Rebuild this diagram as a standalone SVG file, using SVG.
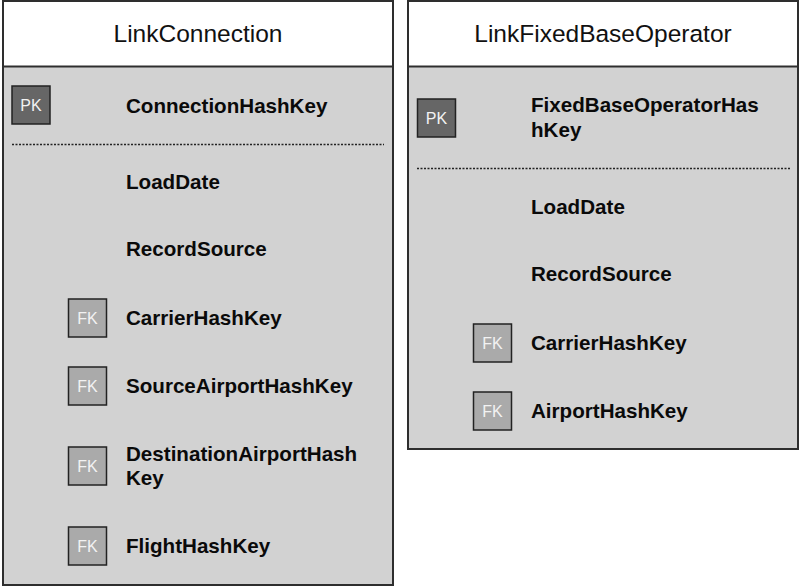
<svg xmlns="http://www.w3.org/2000/svg" width="800" height="587" viewBox="0 0 800 587">
<style>
.body{fill:#d2d2d2;stroke:#2e2e2e;stroke-width:2}
.head{fill:#ffffff;stroke:#2e2e2e;stroke-width:2}
.title{font-family:"Liberation Sans",Arial,sans-serif;font-size:24.5px;fill:#111;text-anchor:middle}
.attr{font-family:"Liberation Sans",Arial,sans-serif;font-size:20.6px;font-weight:bold;fill:#0a0a0a}
.pk{fill:#666666;stroke:#222;stroke-width:1.5}
.fk{fill:#aaaaaa;stroke:#222;stroke-width:1.5}
.key{font-family:"Liberation Sans",Arial,sans-serif;font-size:16px;fill:#f2f2f2;text-anchor:middle}
.sep{stroke:#222;stroke-width:1.5;stroke-dasharray:2 1.5;fill:none}
</style>
<rect width="800" height="587" fill="#ffffff"/>
<g id="LinkConnection">
<rect class="body" x="3" y="1" width="390" height="584"/>
<rect class="head" x="3" y="1" width="390" height="65.5"/>
<text class="title" x="198" y="42">LinkConnection</text>
<rect class="pk" x="12" y="86" width="38" height="38"/>
<text class="key" x="31" y="111">PK</text>
<text class="attr" x="126" y="113">ConnectionHashKey</text>
<line class="sep" x1="12" y1="144.5" x2="384" y2="144.5"/>
<text class="attr" x="126" y="189">LoadDate</text>
<text class="attr" x="126" y="256">RecordSource</text>
<rect class="fk" x="68.5" y="299" width="38" height="38"/>
<text class="key" x="87.5" y="324">FK</text>
<text class="attr" x="126" y="325">CarrierHashKey</text>
<rect class="fk" x="68.5" y="367" width="38" height="38"/>
<text class="key" x="87.5" y="392">FK</text>
<text class="attr" x="126" y="393">SourceAirportHashKey</text>
<rect class="fk" x="68.5" y="447" width="38" height="38"/>
<text class="key" x="87.5" y="472">FK</text>
<text class="attr" x="126" y="461">DestinationAirportHash</text>
<text class="attr" x="126" y="485">Key</text>
<rect class="fk" x="68.5" y="527" width="38" height="38"/>
<text class="key" x="87.5" y="552">FK</text>
<text class="attr" x="126" y="553">FlightHashKey</text>
</g>
<g id="LinkFixedBaseOperator">
<rect class="body" x="408" y="1" width="390" height="448"/>
<rect class="head" x="408" y="1" width="390" height="65.5"/>
<text class="title" x="603" y="42">LinkFixedBaseOperator</text>
<rect class="pk" x="417.5" y="99" width="38" height="38"/>
<text class="key" x="436.5" y="124">PK</text>
<text class="attr" x="531" y="112">FixedBaseOperatorHas</text>
<text class="attr" x="531" y="137">hKey</text>
<line class="sep" x1="417" y1="168.5" x2="790" y2="168.5"/>
<text class="attr" x="531" y="214">LoadDate</text>
<text class="attr" x="531" y="281">RecordSource</text>
<rect class="fk" x="473.5" y="324" width="38" height="38"/>
<text class="key" x="492.5" y="349">FK</text>
<text class="attr" x="531" y="350">CarrierHashKey</text>
<rect class="fk" x="473.5" y="392" width="38" height="38"/>
<text class="key" x="492.5" y="417">FK</text>
<text class="attr" x="531" y="418">AirportHashKey</text>
</g>
<g id="connectors"></g>
</svg>
